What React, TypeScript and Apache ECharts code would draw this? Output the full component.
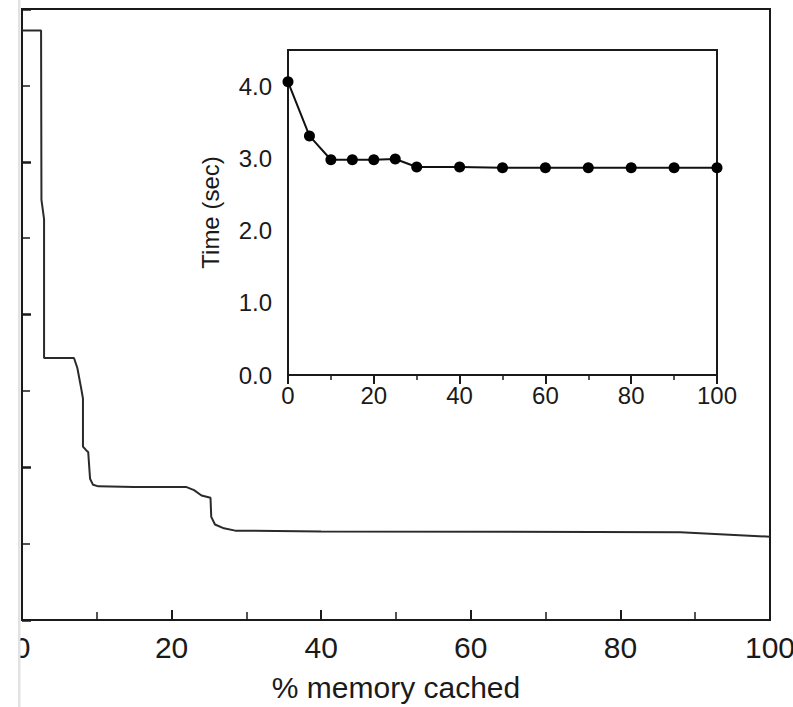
import React, { useEffect, useRef } from "react";
import * as echarts from "echarts";

// Main curve: % memory cached vs time (y labels cropped in the reference)
const mainX = [0, 2.55, 2.6, 2.95, 2.95, 6.95, 7.4, 7.9, 8.15, 8.15, 8.6, 8.85, 9.1, 9.5, 10.2, 15, 22, 23, 24, 25.2, 25.3, 25.8, 27, 28.5, 40, 88, 100];
const mainY = [7.72, 7.72, 5.5, 5.25, 3.43, 3.43, 3.3, 3.04, 2.9, 2.27, 2.22, 2.2, 1.85, 1.77, 1.75, 1.74, 1.74, 1.7, 1.63, 1.6, 1.35, 1.25, 1.2, 1.17, 1.16, 1.15, 1.09];

// Inset: Time (sec) vs % memory cached
const insetX = [0, 5, 10, 15, 20, 25, 30, 40, 50, 60, 70, 80, 90, 100];
const insetY = [4.06, 3.31, 2.98, 2.98, 2.98, 2.99, 2.88, 2.88, 2.87, 2.87, 2.87, 2.87, 2.87, 2.87];

const mainXTicks = [0, 20, 40, 60, 80, 100];
const insetYTicks = [0, 1, 2, 3, 4];

const FONT = "'Liberation Sans', Arial, Helvetica, sans-serif";
const INK = "#1a1a1a";

export default function App() {
  const ref = useRef<HTMLDivElement>(null);

  useEffect(() => {
    if (!ref.current) return;
    const chart = echarts.init(ref.current, undefined, { renderer: "svg" });

    const line = { show: true, lineStyle: { color: INK, width: 2 } };
    const noLabel = { show: false };

    const option: any = {
      animation: false,
      backgroundColor: "#fff",
      grid: [
        { left: 22, width: 748, top: 9, height: 611, outerBoundsMode: "none", containLabel: false, show: true, borderColor: INK, borderWidth: 2, backgroundColor: "transparent" },
        { left: 288, top: 50, width: 429, height: 325, outerBoundsMode: "none", containLabel: false, show: true, borderColor: INK, borderWidth: 2, backgroundColor: "#fff", z: 5 },
      ],
      xAxis: [
        {
          gridIndex: 0, type: "value", min: 0, max: 100, interval: 20,
          axisLine: line,
          axisTick: { show: true, inside: true, length: 10, lineStyle: { color: INK, width: 2 } },
          minorTick: { show: true, splitNumber: 2, length: 8, lineStyle: { color: INK, width: 1.5 } },
          splitLine: { show: false }, minorSplitLine: { show: false },
          axisLabel: {
            fontSize: 30, margin: 12, color: INK, fontFamily: FONT,
            formatter: (v: number) => (mainXTicks.includes(v) ? String(v) : ""),
          },
          name: "% memory cached", nameLocation: "middle", nameGap: 52,
          nameTextStyle: { fontSize: 30, color: INK, fontFamily: FONT },
        },
        {
          gridIndex: 1, type: "value", min: 0, max: 100, interval: 20,
          axisLine: line,
          axisTick: { show: true, inside: true, length: 9, lineStyle: { color: INK, width: 2 } },
          minorTick: { show: true, splitNumber: 2, length: 5, lineStyle: { color: INK, width: 1.5 } },
          splitLine: { show: false }, minorSplitLine: { show: false },
          axisLabel: { fontSize: 24, margin: 8, color: INK, fontFamily: FONT },
        },
        {
          gridIndex: 1, type: "value", position: "top", min: 0, max: 100, interval: 20,
          axisLine: line,
          axisTick: { show: true, inside: true, length: 9, lineStyle: { color: INK, width: 2 } },
          minorTick: { show: true, splitNumber: 2, length: 5, lineStyle: { color: INK, width: 1.5 } },
          splitLine: { show: false }, minorSplitLine: { show: false },
          axisLabel: noLabel,
        },
      ],
      yAxis: [
        {
          gridIndex: 0, type: "value", min: 0, max: 8, interval: 2,
          axisLine: line,
          axisTick: { show: true, inside: true, length: 9, lineStyle: { color: INK, width: 2.5 } },
          minorTick: { show: true, splitNumber: 2, length: 8, lineStyle: { color: INK, width: 1.5 } },
          splitLine: { show: false }, minorSplitLine: { show: false },
          axisLabel: noLabel,
        },
        {
          gridIndex: 1, type: "value", position: "left", min: 0, max: 4.5, interval: 1,
          axisLine: line,
          axisTick: { show: true, inside: true, length: 10, lineStyle: { color: INK, width: 2 } },
          splitLine: { show: false },
          axisLabel: {
            fontSize: 24, margin: 16, color: INK, fontFamily: FONT,
            formatter: (v: number) => (insetYTicks.includes(v) ? v.toFixed(1) : ""),
          },
          name: "Time (sec)", nameLocation: "middle", nameGap: 66, nameRotate: 90,
          nameTextStyle: { fontSize: 24, color: INK, fontFamily: FONT },
        },
        {
          gridIndex: 1, type: "value", position: "left", offset: 0, min: 0, max: 4.5, interval: 0.5,
          axisLine: { show: false },
          axisTick: { show: true, inside: true, length: 5, lineStyle: { color: INK, width: 1.5 } },
          splitLine: { show: false }, axisLabel: noLabel,
        },
        {
          gridIndex: 1, type: "value", position: "right", offset: 0, min: 0, max: 4.5, interval: 1,
          axisLine: line,
          axisTick: { show: true, inside: true, length: 10, lineStyle: { color: INK, width: 2 } },
          splitLine: { show: false }, axisLabel: noLabel,
        },
        {
          gridIndex: 1, type: "value", position: "right", offset: 0, min: 0, max: 4.5, interval: 0.5,
          axisLine: { show: false },
          axisTick: { show: true, inside: true, length: 5, lineStyle: { color: INK, width: 1.5 } },
          splitLine: { show: false }, axisLabel: noLabel,
        },
      ],
      series: [
        {
          type: "line", xAxisIndex: 0, yAxisIndex: 0,
          data: mainX.map((x, i) => [x, mainY[i]]),
          showSymbol: false, symbol: "none",
          lineStyle: { color: "#2a2a2a", width: 2 },
          z: 2,
        },
        {
          type: "line", xAxisIndex: 1, yAxisIndex: 1,
          data: insetX.map((x, i) => [x, insetY[i]]),
          symbol: "circle", symbolSize: 11,
          itemStyle: { color: "#000" },
          lineStyle: { color: "#111", width: 2 },
          z: 10,
        },
      ],
      graphic: [
        { type: "rect", shape: { x: 0, y: 0, width: 18, height: 707 }, style: { fill: "#fff" }, z: 100 },
        { type: "rect", shape: { x: 18, y: 0, width: 2.5, height: 707 }, style: { fill: "#e2e2e2" }, z: 100 },
      ],
    };

    chart.setOption(option);
    return () => chart.dispose();
  }, []);

  return (
    <div
      ref={ref}
      style={{ position: "fixed", left: 0, top: 0, width: 793, height: 707, background: "#fff" }}
    />
  );
}
